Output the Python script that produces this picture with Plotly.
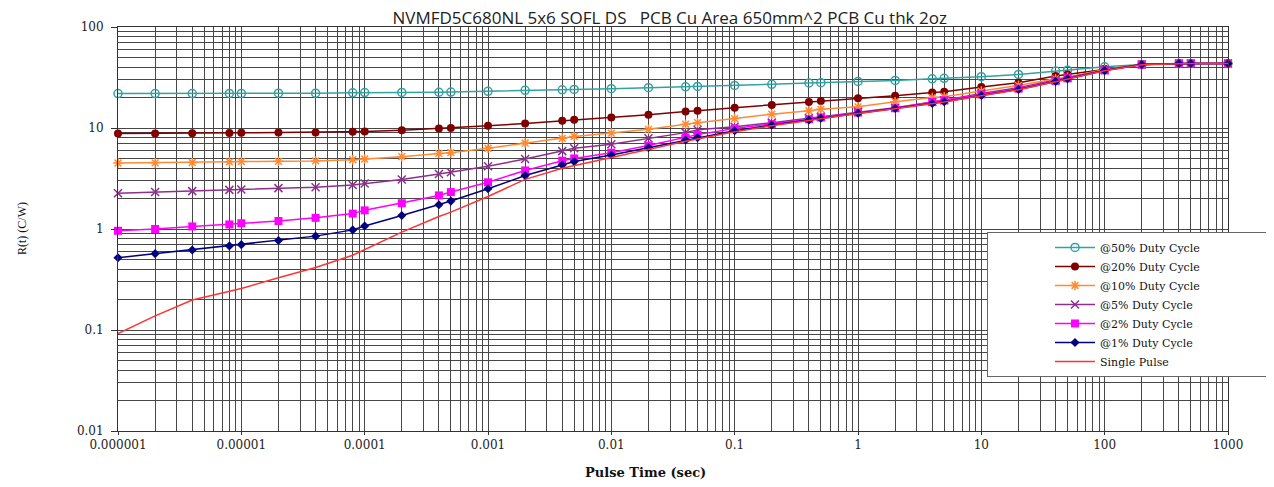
import plotly.graph_objects as go

# Pulse time (sec)
pulse_time = [1e-6, 2e-6, 4e-6, 8e-6, 1e-5, 2e-5, 4e-5, 8e-5, 1e-4, 2e-4, 4e-4, 5e-4,
              1e-3, 2e-3, 4e-3, 5e-3, 0.01, 0.02, 0.04, 0.05, 0.1, 0.2, 0.4, 0.5,
              1, 2, 4, 5, 10, 20, 40, 50, 100, 200, 400, 500, 1000]

duty50 = [21.9, 21.9, 21.9, 22.0, 22.0, 22.1, 22.1, 22.3, 22.4, 22.5, 22.6, 22.7,
          23.1, 23.6, 23.9, 24.1, 24.5, 25.1, 25.6, 25.8, 26.4, 27.1, 27.9, 28.1,
          28.9, 29.6, 30.7, 31.0, 32.2, 33.9, 36.6, 37.4, 40.4, 42.5, 43.5, 43.5, 43.5]
duty20 = [8.8, 8.8, 8.85, 8.9, 8.95, 9.0, 9.05, 9.2, 9.25, 9.5, 9.9, 10.0,
          10.5, 11.1, 11.8, 12.1, 12.7, 13.5, 14.6, 14.8, 15.9, 16.9, 18.1, 18.5,
          19.7, 20.9, 22.4, 22.9, 25.5, 28.1, 32.7, 33.9, 38.5, 42.5, 43.5, 43.5, 43.5]
duty10 = [4.5, 4.52, 4.55, 4.62, 4.65, 4.68, 4.72, 4.85, 4.93, 5.2, 5.6, 5.7,
          6.3, 7.1, 7.9, 8.25, 8.9, 9.7, 10.9, 11.3, 12.4, 13.7, 14.8, 15.3,
          16.2, 18.2, 20.0, 20.4, 23.2, 26.4, 30.7, 31.9, 37.9, 42.5, 43.5, 43.5, 43.5]
duty5 = [2.26, 2.32, 2.37, 2.44, 2.46, 2.54, 2.59, 2.73, 2.82, 3.09, 3.5, 3.65,
         4.18, 4.93, 5.9, 6.3, 6.9, 7.9, 9.0, 9.6, 10.3, 11.3, 12.5, 12.9,
         14.5, 15.9, 18.1, 18.8, 22.0, 25.1, 29.8, 31.5, 37.4, 42.5, 43.5, 43.5, 43.5]
duty2 = [0.96, 1.0, 1.06, 1.11, 1.14, 1.2, 1.29, 1.42, 1.53, 1.8, 2.15, 2.32,
         2.9, 3.8, 4.75, 5.0, 5.7, 6.7, 8.05, 8.6, 9.9, 10.9, 12.2, 12.7,
         14.2, 15.7, 18.1, 18.8, 21.5, 24.5, 29.2, 31.0, 37.2, 42.5, 43.5, 43.5, 43.5]
duty1 = [0.52, 0.57, 0.62, 0.68, 0.70, 0.77, 0.85, 0.98, 1.07, 1.36, 1.74, 1.89,
         2.5, 3.38, 4.3, 4.65, 5.4, 6.4, 7.6, 8.0, 9.4, 10.7, 12.0, 12.5,
         14.0, 15.6, 17.5, 18.2, 21.0, 24.1, 28.9, 30.7, 37.0, 42.5, 43.5, 43.5, 43.5]
single = [0.092, 0.138, 0.198, 0.243, 0.258, 0.329, 0.416, 0.55, 0.625, 0.93, 1.33, 1.47,
          2.1, 3.1, 4.0, 4.25, 5.1, 6.1, 7.4, 7.8, 9.2, 10.5, 11.9, 12.4,
          13.9, 15.5, 17.4, 18.1, 20.9, 23.9, 28.7, 30.5, 36.8, 42.4, 43.4, 43.4, 43.4]

x_tickvals = [1e-6, 1e-5, 1e-4, 1e-3, 1e-2, 1e-1, 1, 10, 100, 1000]
x_ticktext = ["0.000001", "0.00001", "0.0001", "0.001", "0.01", "0.1", "1", "10", "100", "1000"]
y_tickvals = [0.01, 0.1, 1, 10, 100]
y_ticktext = ["0.01", "0.1", "1", "10", "100"]

series = [
    ("@50% Duty Cycle", duty50, "#31A3A2", "circle-open", 8),
    ("@20% Duty Cycle", duty20, "#7F0000", "circle", 8),
    ("@10% Duty Cycle", duty10, "#FF8A33", "asterisk-open", 8),
    ("@5% Duty Cycle", duty5, "#8E2F8E", "x-thin-open", 8),
    ("@2% Duty Cycle", duty2, "#FF00FF", "square", 8),
    ("@1% Duty Cycle", duty1, "#000080", "diamond", 7),
]

pad = "\u00a0" * 18  # right padding inside the legend box

fig = go.Figure()
for name, vals, color, sym, size in series:
    mk = dict(symbol=sym, size=size, color=color)
    if sym.endswith("open"):
        mk["line"] = dict(color=color, width=1.5)
    fig.add_trace(go.Scatter(x=pulse_time, y=vals, name=name + pad, mode="lines+markers",
                             line=dict(color=color, width=1.5), marker=mk,
                             cliponaxis=False))
fig.add_trace(go.Scatter(x=pulse_time, y=single, name="Single Pulse" + pad, mode="lines",
                         line=dict(color="#FF3333", width=1.5), cliponaxis=False))

W, H = 1274, 487
L, R, T, B = 110, 54, 15, 64
plot_w = W - L - R
plot_h = H - T - B
bottom = T + plot_h

grid = "#474747"
tickfont = dict(family="DejaVu Serif", size=12, color="#222")
fig.update_layout(
    width=W, height=H,
    margin=dict(l=L, r=R, t=T, b=B),
    paper_bgcolor="white", plot_bgcolor="white",
    title=dict(text="NVMFD5C680NL 5x6 SOFL DS   PCB Cu Area 650mm^2 PCB Cu thk 2oz",
               x=0.497, xref="paper", xanchor="center", y=1 - 10 / H, yref="container",
               yanchor="middle",
               font=dict(family="Open Sans", size=17, color="#222")),
    showlegend=True,
    legend=dict(x=(979 - L) / plot_w, y=(bottom - 222) / plot_h,
                xanchor="left", yanchor="top",
                bgcolor="white", bordercolor="#666", borderwidth=1,
                font=dict(family="DejaVu Serif", size=11, color="#111"),
                indentation=62, tracegroupgap=0, itemwidth=40),
    xaxis=dict(type="log", range=[-6, 3], tickvals=x_tickvals, ticktext=x_ticktext,
               showgrid=True, gridcolor=grid, gridwidth=1,
               minor=dict(showgrid=True, gridcolor=grid, gridwidth=1, dtick="D1"),
               showline=True, linecolor="#333", mirror=True,
               ticks="outside", ticklen=3, tickcolor="#333",
               tickfont=tickfont, zeroline=False),
    yaxis=dict(type="log", range=[-2, 2], tickvals=y_tickvals, ticktext=y_ticktext,
               showgrid=True, gridcolor=grid, gridwidth=1,
               minor=dict(showgrid=True, gridcolor=grid, gridwidth=1, dtick="D1"),
               showline=True, linecolor="#333", mirror=True,
               ticks="outside", ticklen=6, tickcolor="#333", ticklabelstandoff=5,
               tickfont=tickfont, zeroline=False),
    annotations=[
        dict(text="<b>Pulse Time (sec)</b>", xref="paper", yref="paper",
             x=(637 - L) / plot_w, y=-(465 - bottom) / plot_h,
             xanchor="center", yanchor="middle",
             showarrow=False, font=dict(family="DejaVu Serif", size=13, color="#111")),
        dict(text="R(t) (C/W)", xref="paper", yref="paper", textangle=-90,
             x=(14 - L) / plot_w, y=(bottom - 219) / plot_h,
             xanchor="center", yanchor="middle",
             showarrow=False, font=dict(family="Liberation Serif", size=12, color="#111")),
    ],
)

fig.write_html("out.html")
